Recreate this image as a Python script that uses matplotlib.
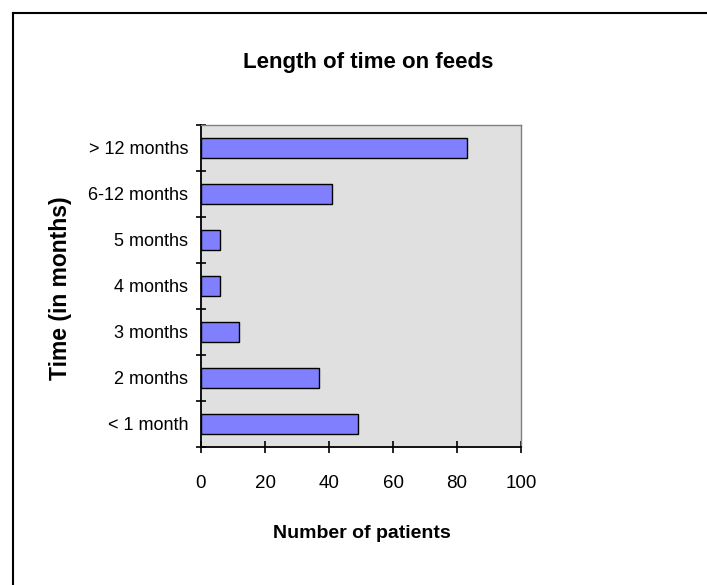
import numpy as np
import matplotlib
matplotlib.use('Agg')
import matplotlib.pyplot as plt
from matplotlib.lines import Line2D

plt.rcParams['font.family'] = ['Liberation Sans', 'DejaVu Sans']

# data
categories = ['< 1 month', '2 months', '3 months', '4 months', '5 months',
              '6-12 months', '> 12 months']
patients = [49, 37, 12, 6, 6, 41, 83]
x_ticks = [0, 20, 40, 60, 80, 100]

W, H = 707, 585
fig = plt.figure(figsize=(W / 100, H / 100), dpi=100)
ax = fig.add_axes([201 / W, 1 - 447 / H, 320 / W, 322 / H])

pos = np.arange(len(categories))
ax.barh(pos, patients, height=0.45, color='#8080ff', edgecolor='black',
        linewidth=1.0, zorder=3)

ax.set_facecolor('#e0e0e0')
ax.set_xlim(0, 100)
ax.set_ylim(-0.5, len(categories) - 0.5)

# spines like the old excel look
ax.spines['left'].set_linewidth(1.3)
ax.spines['bottom'].set_linewidth(1.3)
ax.spines['top'].set_color('#808080')
ax.spines['right'].set_color('#808080')
ax.spines['top'].set_linewidth(1.0)
ax.spines['right'].set_linewidth(1.0)

ax.set_xticks(x_ticks)
ax.set_xticklabels([str(v) for v in x_ticks], fontsize=13.5)
ax.tick_params(axis='x', direction='inout', length=9, width=1.2, pad=16)

# ticks between categories, labels at centres
ax.set_yticks(np.arange(-0.5, len(categories), 1.0))
ax.set_yticklabels([])
ax.set_yticks(pos, minor=True)
ax.set_yticklabels(categories, minor=True, fontsize=13)
ax.tick_params(axis='y', which='major', direction='inout', length=7.5, width=1.2)
ax.tick_params(axis='y', which='minor', length=0, pad=9)

fig.text(368 / W, 1 - 68 / H, 'Length of time on feeds', fontsize=16,
         fontweight='bold', ha='center', va='baseline')
fig.text(362 / W, 1 - 538 / H, 'Number of patients', fontsize=14,
         fontweight='bold', ha='center', va='baseline')
fig.text(60 / W, 1 - 288 / H, 'Time (in months)', fontsize=16.5,
         fontweight='bold', rotation=90, ha='center', va='center')

# chart border (only left and top fall inside the picture)
fig.add_artist(Line2D([12.5 / W, 12.5 / W], [0, 1 - 12.5 / H], color='black',
                      lw=1.5, transform=fig.transFigure))
fig.add_artist(Line2D([12.5 / W, 1], [1 - 12.5 / H, 1 - 12.5 / H], color='black',
                      lw=1.5, transform=fig.transFigure))

fig.savefig('out.png', dpi=100)
